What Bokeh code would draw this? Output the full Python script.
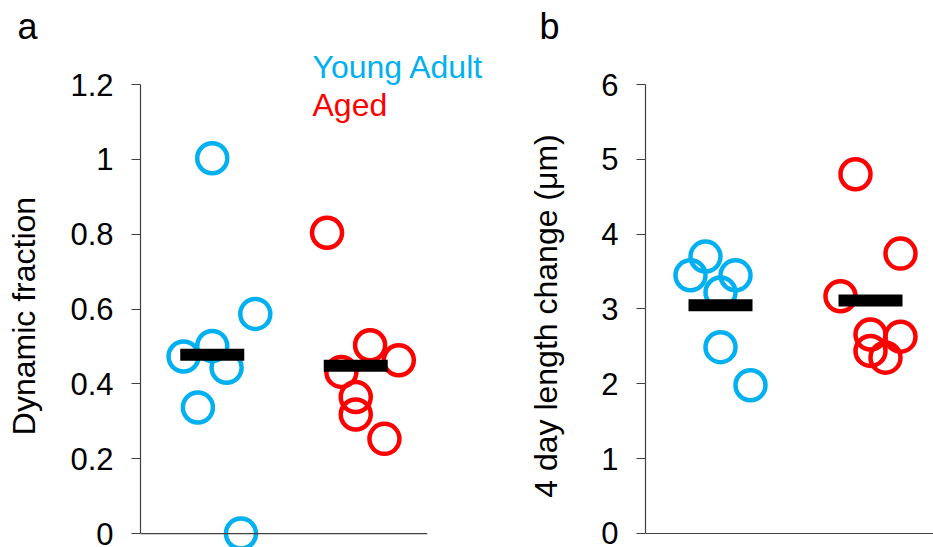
import numpy as np
from bokeh.plotting import figure
from bokeh.layouts import row
from bokeh.models import Range1d, FixedTicker, Span, Label, Title
from bokeh.embed import file_html
from bokeh.resources import INLINE

# ---------------- data ----------------
groups = ["Young Adult", "Aged"]
group_colors = ["#00B0F0", "#FF0000"]
group_centers = [1, 3]

# panel a: Dynamic fraction
a_young_x = [0.6, 1.0, 1.6, 1.0, 1.2, 0.8, 1.4]
a_young_y = [0.473, 1.003, 0.587, 0.501, 0.443, 0.337, 0.0]
a_aged_x = [2.6, 3.2, 3.6, 2.8, 3.0, 3.0, 3.4]
a_aged_y = [0.804, 0.503, 0.463, 0.432, 0.365, 0.318, 0.253]
a_ticks = [0, 0.2, 0.4, 0.6, 0.8, 1.0, 1.2]
a_tick_labels = ["0", "0.2", "0.4", "0.6", "0.8", "1", "1.2"]

# panel b: 4 day length change (µm)
b_young_x = [0.8, 0.6, 1.2, 1.0, 1.0, 1.4]
b_young_y = [3.70, 3.45, 3.45, 3.22, 2.49, 1.98]
b_aged_x = [2.8, 3.4, 2.6, 3.0, 3.4, 3.0, 3.2]
b_aged_y = [4.80, 3.74, 3.17, 2.66, 2.63, 2.44, 2.35]
b_ticks = [0, 1, 2, 3, 4, 5, 6]
b_tick_labels = ["0", "1", "2", "3", "4", "5", "6"]

FONT = "Liberation Sans"
AX_COLOR = "#404040"


def make_panel(width, left, right, x_end, y_start, y_end, ticks, tick_labels,
               ylabel, label_standoff, series):
    p = figure(width=width, height=547, output_backend="svg", toolbar_location=None,
               x_range=Range1d(0, x_end), y_range=Range1d(y_start, y_end),
               x_axis_location=None,
               min_border_left=left, min_border_right=right,
               min_border_top=84, min_border_bottom=0)
    p.outline_line_color = None
    p.grid.visible = False
    p.background_fill_color = "white"
    p.border_fill_color = "white"

    ax = p.yaxis[0]
    ax.ticker = FixedTicker(ticks=ticks)
    ax.major_label_overrides = {t: l for t, l in zip(ticks, tick_labels)}
    ax.bounds = (ticks[0], ticks[-1])
    ax.axis_line_color = AX_COLOR
    ax.axis_line_width = 1.2
    ax.major_tick_line_color = AX_COLOR
    ax.major_tick_line_width = 1.2
    ax.major_tick_out = 9
    ax.major_tick_in = 0
    ax.minor_tick_line_color = None
    ax.major_label_text_font = FONT
    ax.major_label_text_font_size = "31px"
    ax.major_label_text_color = "black"
    ax.major_label_standoff = 18
    ax.axis_label = ylabel
    ax.axis_label_text_font = FONT
    ax.axis_label_text_font_size = "32px"
    ax.axis_label_text_font_style = "normal"
    ax.axis_label_text_color = "black"
    ax.axis_label_standoff = label_standoff

    p.add_layout(Span(location=0, dimension="width", line_color=AX_COLOR, line_width=1.2))

    for xs, ys, color, center in series:
        p.scatter(x=xs, y=ys, marker="circle", size=30, fill_color=None,
                  line_color=color, line_width=4.5)
    for xs, ys, color, center in series:
        p.rect(x=[center], y=[float(np.mean(ys))], width=64, height=12,
               width_units="screen", height_units="screen",
               fill_color="black", line_color=None)
    return p


pa = make_panel(490, 140, 63, 4.0, 1.2 - 463 / 374.2, 1.2, a_ticks, a_tick_labels,
                "Dynamic fraction", 25,
                [(a_young_x, a_young_y, group_colors[0], group_centers[0]),
                 (a_aged_x, a_aged_y, group_colors[1], group_centers[1])])
pb = make_panel(443, 155, 0, 3.84, 6 - 463 / 74.83, 6.0, b_ticks, b_tick_labels,
                "4 day length change (\u03bcm)", 34,
                [(b_young_x, b_young_y, group_colors[0], group_centers[0]),
                 (b_aged_x, b_aged_y, group_colors[1], group_centers[1])])

# legend text
pa.add_layout(Title(text=groups[0], text_color=group_colors[0], align="left", offset=172,
                    standoff=0, text_font=FONT, text_font_size="32px",
                    text_font_style="normal"), "above")
pa.add_layout(Label(x=2.397, y=1.145, text=groups[1], text_color=group_colors[1],
                    text_font=FONT, text_font_size="32px", text_baseline="alphabetic"))

# panel letters
pa.add_layout(Title(text="a", text_color="black", align="left", offset=-123,
                    standoff=0, text_font=FONT, text_font_size="36px",
                    text_font_style="normal"), "above")
# invisible spacer so that "b" sits at the same height as "a"
pb.add_layout(Title(text=" ", text_color="white", align="left", offset=0,
                    standoff=0, text_font=FONT, text_font_size="32px",
                    text_font_style="normal"), "above")
pb.add_layout(Title(text="b", text_color="black", align="left", offset=-106,
                    standoff=0, text_font=FONT, text_font_size="36px",
                    text_font_style="normal"), "above")

layout = row(pa, pb)
open("out.html", "w").write(file_html(layout, INLINE))
